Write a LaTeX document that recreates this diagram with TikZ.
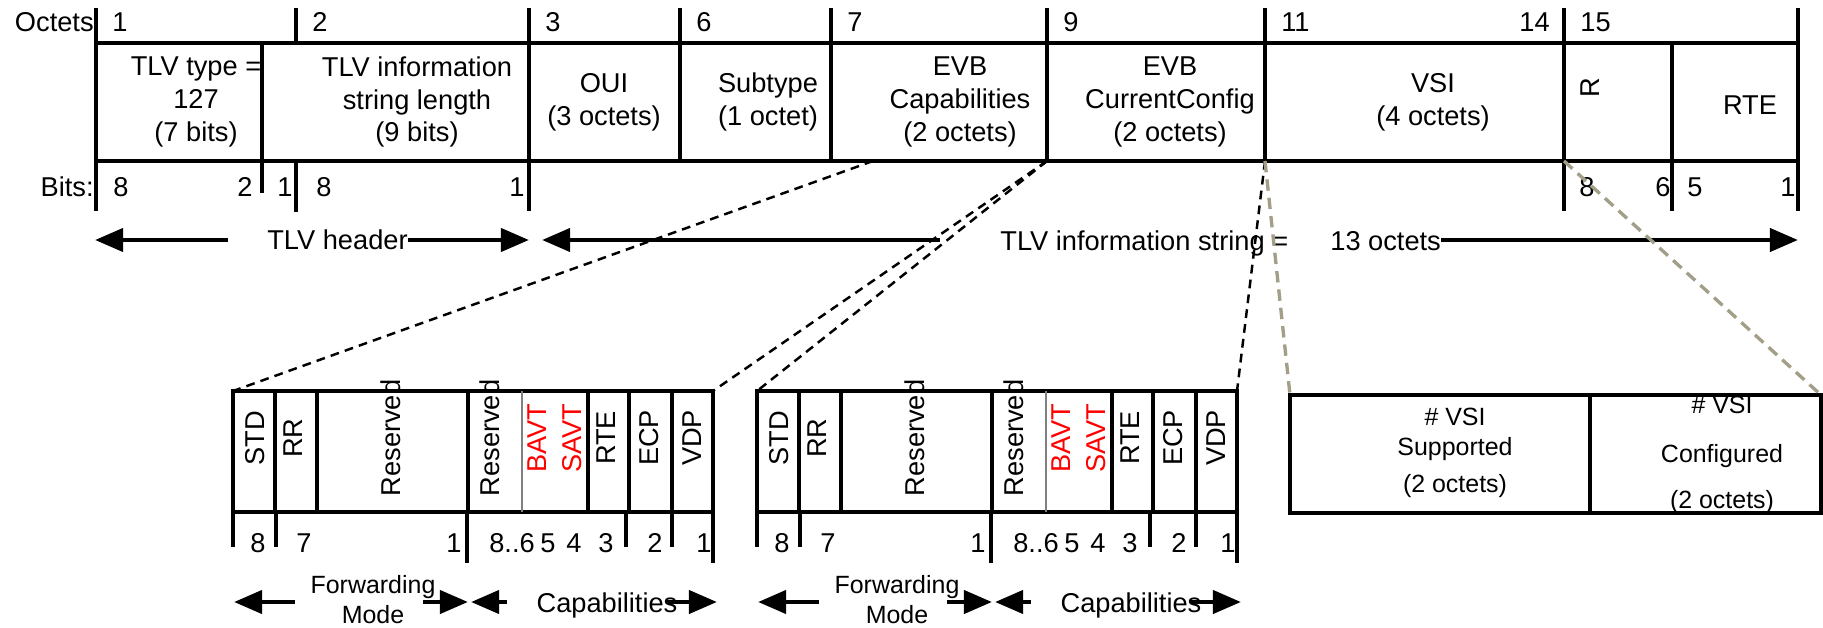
\documentclass[tikz,border=0pt]{standalone}
\usepackage{fontspec}
\setmainfont{Liberation Sans}
\usetikzlibrary{arrows.meta}
\definecolor{khaki}{RGB}{163,158,135}

\begin{document}
\begin{tikzpicture}[x=0.02cm, y=-0.02cm,
  every node/.style={font=\fontsize{15.5}{18.6}\selectfont, inner sep=0pt, align=center},
  small/.style={font=\fontsize{14.2}{17}\selectfont},
  frame/.style={line width=2pt},
  sep/.style={line width=2.3pt},
  vert/.style={rotate=90},
  zoomline/.style={line width=1.4pt, dash pattern=on 5pt off 3.5pt},
  tanline/.style={line width=1.9pt, draw=khaki, dash pattern=on 6.5pt off 4pt},
  span/.style={line width=2.7pt, -{Triangle[length=16pt, width=13pt]}}]

\useasboundingbox (0,0) rectangle (1823,628);

\draw[frame] (96,43) -- (1798,43) (96,161) -- (1798,161);
\foreach \x in {96,529,1564,1798} \draw[sep] (\x,8) -- (\x,211);
\foreach \x in {680,831,1047,1265} \draw[frame] (\x,8) -- (\x,161);
\draw[sep] (296,8) -- (296,43) (296,161) -- (296,212);
\draw[frame] (262,43) -- (262,193);
\draw[frame] (1672,43) -- (1672,211);

\node[anchor=base east] (octets) at (94,32) {Octets};
\foreach \x/\n in {96/1, 296/2, 529/3, 680/6, 831/7, 1047/9, 1265/11, 1564/15}
  \node[anchor=base west] (oct\n) at (\x+16,32) {\n};
\node[anchor=base east] (oct14) at (1550,32) {14};

\node (typ) at (196,102) {TLV type =\\127\hspace*{1.2em}\\(7 bits)};
\node (len) at (417,102) {TLV information\\string length\\(9 bits)};
\node (oui) at (604,102) {OUI\\(3 octets)};
\node (sub) at (768,102) {Subtype\\(1 octet)};
\node (cap) at (960,102) {EVB\\Capabilities\\(2 octets)};
\node (cfg) at (1170,102) {EVB\\CurrentConfig\\(2 octets)};
\node (vsi) at (1433,102) {VSI\\(4 octets)};
\node[vert] (rsv) at (1590,88) {R};
\node (rte) at (1750,105) {RTE};

\node[anchor=base east] (bits) at (94,197) {Bits:};
\foreach \x/\t [count=\k] in {121/8, 245/2, 285/1, 324/8, 517/1, 1587/8, 1663/6, 1695/5, 1788/1}
  \node[anchor=base] (bit\k) at (\x,197) {\t};

\coordinate (h0) at (95,240);
\coordinate (h1) at (228,240);
\coordinate (h2) at (529,240);
\node[anchor=base west] (hdr) at (267,250) {TLV header};
\draw[span] (h1) -- (h0);
\draw[span] (hdr.east |- h2) -- (h2);

\coordinate (i0) at (542,240);
\coordinate (i1) at (940,240);
\coordinate (i2) at (1798,240);
\node[anchor=base west] (info) at (1000,251) {TLV information string =};
\node[anchor=base west] (len13) at (1330,251) {13 octets};
\draw[span] (i1) -- (i0);
\draw[span] (len13.east |- i2) -- (i2);

\foreach \bx/\bn in {233/a, 757/b} {
  \draw[frame] (\bx,391) rectangle (\bx+480,512);
  \foreach \dx in {42,84,235,355,396,439}
    \draw[frame] (\bx+\dx,391) -- (\bx+\dx,512);
  \draw[line width=0.7pt, gray] (\bx+289,391) -- (\bx+289,512);
  \foreach \dx/\dy in {0/547, 43/547, 234/563, 393/547, 439/547, 480/563}
    \draw[sep] (\bx+\dx,512) -- (\bx+\dx,\dy);
  \coordinate (\bn tl) at (\bx,391);
  \coordinate (\bn tr) at (\bx+480,391);

  \foreach \dx/\t/\c [count=\k] in {22/STD/black, 60/RR/black, 158/Reserved/black,
      257/Reserved/black, 304/BAVT/red, 339/SAVT/red, 373/RTE/black, 416/ECP/black, 459/VDP/black}
    \node[vert, text=\c] (\bn f\k) at (\bx+\dx,438) {\t};
  \foreach \dx/\t [count=\k] in {25/8, 71/7, 221/1, 279/{8..6}, 315/5, 341/4, 373/3, 422/2, 471/1}
    \node[anchor=base] (\bn b\k) at (\bx+\dx,552) {\t};

  \node[small] (\bn fwd) at (\bx+140,600) {Forwarding\\Mode};
  \node[anchor=base] (\bn caps) at (\bx+374,612) {Capabilities};
  \coordinate (\bn l0) at (\bx+1,602);
  \coordinate (\bn l1) at (\bx+62,602);
  \coordinate (\bn l2) at (\bx+190,602);
  \coordinate (\bn l3) at (\bx+235,602);
  \coordinate (\bn r0) at (\bx+238,602);
  \coordinate (\bn r1) at (\bx+274,602);
  \coordinate (\bn r2) at (\bx+434,602);
  \coordinate (\bn r3) at (\bx+484,602);
  \draw[span] (\bn l1) -- (\bn l0);
  \draw[span] (\bn l2) -- (\bn l3);
  \draw[span] (\bn r1) -- (\bn r0);
  \draw[span] (\bn r2) -- (\bn r3);
}

\draw[frame] (1290,395) rectangle (1821,513);
\draw[frame] (1590,395) -- (1590,513);
\coordinate (ctl) at (1290,395);
\coordinate (ctr) at (1821,395);
\node[small] (vsisup) at (1455,453) {\# VSI\\Supported\\[4pt](2 octets)};
\node[small] (vsicfg) at (1722,455) {\# VSI\\[11pt]Configured\\[9pt](2 octets)};

\coordinate (capfoot) at (873,161);
\coordinate (cfgl) at (1047,161);
\coordinate (cfgr) at (1265,161);
\coordinate (vsir) at (1564,161);
\draw[zoomline] (capfoot) -- (atl);
\draw[zoomline] (cfgl) -- (atr);
\draw[zoomline] (cfgl) -- (btl);
\draw[zoomline] (cfgr) -- (btr);
\draw[tanline] (cfgr) -- (ctl);
\draw[tanline] (vsir) -- (ctr);

\end{tikzpicture}
\end{document}
